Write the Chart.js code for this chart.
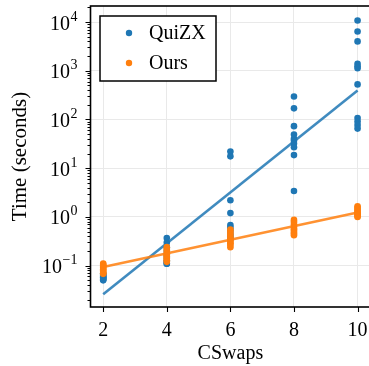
<!DOCTYPE html>
<html>
<head>
<meta charset="utf-8">
<script src="https://cdn.jsdelivr.net/npm/chart.js@4.4.0/dist/chart.umd.min.js"></script>
<style>
  html, body { margin: 0; padding: 0; background: #fff; overflow: hidden; }
  #wrap { width: 380px; height: 366px; }
</style>
</head>
<body>
<div id="wrap"><canvas id="chart" width="380" height="366"></canvas></div>
<script>
'use strict';

// ── Data ────────────────────────────────────────────────────────────────────
const cswaps = [2, 4, 6, 8, 10];

// QuiZX run times per CSwap count (seconds)
const quizx2  = [0.07, 0.066, 0.063, 0.06, 0.058, 0.056, 0.054, 0.052, 0.05];
const quizx4  = [0.37, 0.3, 0.24, 0.2, 0.17, 0.15, 0.13, 0.12, 0.11, 0.11];
const quizx6  = [22, 17.5, 2.2, 1.2, 0.68, 0.61, 0.53, 0.45, 0.4, 0.35];
const quizx8  = [297, 169, 73, 49, 40, 37, 32, 27, 18.6, 3.4];
const quizx10 = [10700, 6390, 4000, 1390, 1240, 1130, 524, 107, 91, 77, 65];

// Ours run times per CSwap count (seconds)
const ours2  = [0.11, 0.105, 0.1, 0.095, 0.09, 0.085, 0.08, 0.075, 0.07, 0.068];
const ours4  = [0.24, 0.22, 0.2, 0.18, 0.17, 0.16, 0.15, 0.14, 0.13, 0.12];
const ours6  = [0.55, 0.5, 0.45, 0.41, 0.37, 0.34, 0.31, 0.29, 0.27, 0.24];
const ours8  = [0.87, 0.8, 0.72, 0.66, 0.6, 0.56, 0.52, 0.48, 0.45, 0.42];
const ours10 = [1.65, 1.55, 1.45, 1.35, 1.27, 1.2, 1.15, 1.1, 1.05, 1.0];

// Fitted trend lines (end points)
const fitX      = [2, 10];
const quizxFit  = [0.026, 395];
const oursFit   = [0.094, 1.23];

// Axis ticks
const xTicks   = [2, 4, 6, 8, 10];
const yTickExp = [-1, 0, 1, 2, 3, 4];

// ── Colours / fonts ─────────────────────────────────────────────────────────
const BLUE   = '#1f77b4';
const ORANGE = '#ff7f0e';
const BLUE_LINE   = 'rgba(31,119,180,0.85)';
const ORANGE_LINE = 'rgba(255,127,14,0.85)';
const GRID   = '#e9e9e9';
const FONT   = "'Liberation Serif', 'Times New Roman', serif";
const SIZE   = 20;

Chart.defaults.font.family = FONT;
Chart.defaults.color = '#000';

const toPoints = (xs, runs) => {
  const pts = [];
  xs.forEach((x, i) => runs[i].forEach(y => pts.push({ x, y })));
  return pts;
};
const toLine = (xs, ys) => xs.map((x, i) => ({ x, y: ys[i] }));

const quizxPts = toPoints(cswaps, [quizx2, quizx4, quizx6, quizx8, quizx10]);
const oursPts  = toPoints(cswaps, [ours2, ours4, ours6, ours8, ours10]);

// ── Plugin: frame, tick marks, superscript y labels, legend ────────────────
const decor = {
  id: 'decor',
  afterDraw(chart) {
    const { ctx, chartArea: a, scales: { x, y } } = chart;
    ctx.save();
    ctx.strokeStyle = '#000';
    ctx.fillStyle = '#000';

    // y tick marks: majors + log minors
    ctx.lineWidth = 1.1;
    ctx.beginPath();
    const lo = Math.floor(Math.log10(y.min)), hi = Math.ceil(Math.log10(y.max));
    for (let e = lo; e <= hi; e++) {
      for (let m = 1; m <= 9; m++) {
        const v = m * Math.pow(10, e);
        if (v < y.min || v > y.max) continue;
        const py = Math.round(y.getPixelForValue(v)) + 0.5;
        const len = m === 1 ? 5 : 3;
        ctx.moveTo(a.left - len, py);
        ctx.lineTo(a.left, py);
      }
    }
    // x tick marks
    xTicks.forEach(v => {
      const px = Math.round(x.getPixelForValue(v)) + 0.5;
      ctx.moveTo(px, a.bottom);
      ctx.lineTo(px, a.bottom + 5);
    });
    ctx.stroke();

    // frame
    ctx.lineWidth = 1.6;
    ctx.strokeRect(a.left, a.top, a.right - a.left, a.bottom - a.top);

    // y labels 10^e
    const right = a.left - 13;
    ctx.textBaseline = 'alphabetic';
    ctx.textAlign = 'right';
    yTickExp.forEach(e => {
      const py = y.getPixelForValue(Math.pow(10, e));
      const exp = e < 0 ? '\u2212' + Math.abs(e) : String(e);
      ctx.font = '14px ' + FONT;
      const w = ctx.measureText(exp).width;
      ctx.fillText(exp, right, py - 1.5);
      ctx.font = SIZE + 'px ' + FONT;
      ctx.fillText('10', right - w - 0.5, py + 7.5);
    });

    // legend
    const lx = a.left + 9.5, ly = a.top + 10, lw = 116, lh = 65;
    ctx.fillStyle = '#fff';
    ctx.fillRect(lx, ly, lw, lh);
    ctx.lineWidth = 1.5;
    ctx.strokeRect(lx, ly, lw, lh);
    ctx.textAlign = 'left';
    ctx.textBaseline = 'middle';
    ctx.font = SIZE + 'px ' + FONT;
    chart.data.datasets.filter(d => d.inLegend).forEach((d, i) => {
      const cy = ly + 17 + i * 30;
      ctx.fillStyle = d.backgroundColor;
      ctx.beginPath();
      ctx.arc(lx + 29, cy, 3.2, 0, Math.PI * 2);
      ctx.fill();
      ctx.fillStyle = '#000';
      ctx.fillText(d.label, lx + 49, cy + 1);
    });
    ctx.restore();
  },
};

// ── Chart ───────────────────────────────────────────────────────────────────
new Chart(document.getElementById('chart'), {
  type: 'scatter',
  data: {
    datasets: [
      { label: 'QuiZX', inLegend: true, data: quizxPts, backgroundColor: BLUE,
        pointRadius: 3.3, borderWidth: 0, order: 3 },
      { label: 'Ours', inLegend: true, data: oursPts, backgroundColor: ORANGE,
        pointRadius: 3.3, borderWidth: 0, order: 1 },
      { label: 'QuiZX fit', data: toLine(fitX, quizxFit), showLine: true,
        borderColor: BLUE_LINE, backgroundColor: BLUE_LINE, borderWidth: 2.6,
        pointRadius: 0, order: 2 },
      { label: 'Ours fit', data: toLine(fitX, oursFit), showLine: true,
        borderColor: ORANGE_LINE, backgroundColor: ORANGE_LINE, borderWidth: 2.6,
        pointRadius: 0, order: 0 },
    ],
  },
  options: {
    responsive: false,
    devicePixelRatio: 1,
    animation: false,
    layout: { padding: { top: 6, right: 9.5, left: 0, bottom: 0 } },
    plugins: { legend: { display: false }, tooltip: { enabled: false } },
    scales: {
      x: {
        type: 'linear',
        min: 1.6,
        max: 10.4,
        afterBuildTicks: s => { s.ticks = xTicks.map(v => ({ value: v })); },
        afterFit: s => { s.height = 59; },
        grid: { color: GRID, lineWidth: 1, drawTicks: false },
        border: { display: false },
        ticks: { font: { size: SIZE }, color: '#000', padding: 12, maxRotation: 0 },
        title: { display: true, text: 'CSwaps', font: { size: SIZE }, color: '#000',
                 padding: { top: 0, bottom: 0 } },
      },
      y: {
        type: 'logarithmic',
        min: 0.0142,
        max: 21300,
        afterBuildTicks: s => { s.ticks = yTickExp.map(e => ({ value: Math.pow(10, e) })); },
        afterFit: s => { s.width = 90.5; },
        grid: { color: GRID, lineWidth: 1, drawTicks: false },
        border: { display: false },
        ticks: { display: false },
        title: { display: true, text: 'Time (seconds)', font: { size: 21 }, color: '#000',
                 padding: { top: 8, bottom: 0 } },
      },
    },
  },
  plugins: [decor],
});
</script>
</body>
</html>
